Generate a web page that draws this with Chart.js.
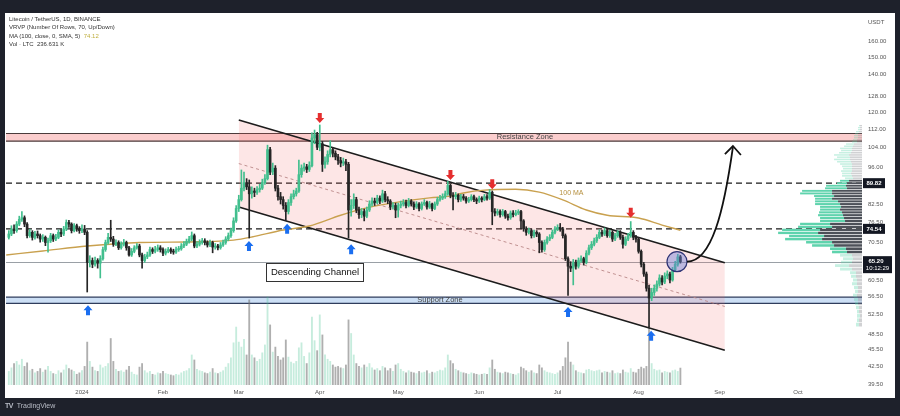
<!DOCTYPE html>
<html>
<head>
<meta charset="utf-8">
<script src="https://cdn.jsdelivr.net/npm/chart.js@4.4.1/dist/chart.umd.min.js"></script>
<style>
  html, body { margin: 0; padding: 0; background: #1e212b; }
  #wrap { position: relative; width: 900px; height: 416px; overflow: hidden; }
  #paper { position: absolute; left: 5px; top: 13px; width: 890px; height: 385px; background: #fff; }
  #chart { position: absolute; left: 0; top: 0; }
  .legend { position: absolute; left: 9px; top: 15px; font: 6px "Liberation Sans", Arial, sans-serif; color: #333; line-height: 8.3px; white-space: nowrap; }
  .legend .ma { color: #bfae3f; }
  .brand { position: absolute; left: 5px; top: 402px; font: 7px "Liberation Sans", Arial, sans-serif; color: #b8bcc6; white-space: nowrap; }
  .brand b { font-weight: 900; letter-spacing: -0.5px; margin-right: 2px; }
</style>
</head>
<body>
<div id="wrap">
  <div id="paper"></div>
  <canvas id="chart" width="900" height="416"></canvas>
  <div class="legend">
    <div>Litecoin / TetherUS, 1D, BINANCE</div>
    <div>VRVP (Number Of Rows, 70, Up/Down)</div>
    <div>MA (100, close, 0, SMA, 5) &nbsp;<span class="ma">74.12</span></div>
    <div>Vol · LTC &nbsp;236.631 K</div>
  </div>
  <div class="brand"><b>TV</b> TradingView</div>
</div>
<script>
// ============================================
// LTC/USDT daily - descending channel
// ============================================

// day 0 = 1 Jan 2024, first candle = 4 Dec 2023
const startDay = -28;
const firstOpen = 72.0;

const closes = [
    // Dec 2023
    73.0, 74.5, 74.0, 76.0, 77.5, 78.0, 76.0, 72.5, 73.5, 72.0,
    73.0, 72.5, 71.5, 72.0, 70.5, 71.0, 72.5, 71.5, 72.0, 73.5,
    73.0, 74.5, 76.5, 76.0, 74.0, 75.5, 74.5, 74.0,
    // Jan
    74.5, 73.5, 65.0, 65.5, 64.5, 65.5, 64.8, 66.0, 68.5, 70.5,
    72.0, 71.5, 70.0, 70.5, 69.0, 70.0, 70.5, 69.0, 67.0, 68.0,
    69.0, 69.5, 67.0, 65.5, 66.5, 67.0, 68.5, 68.0, 68.5, 69.0,
    68.5,
    // Feb
    67.5, 68.0, 68.5, 68.0, 67.8, 68.5, 68.7, 69.5, 70.0, 70.8,
    71.5, 72.5, 69.5, 70.0, 70.5, 71.0, 70.5, 69.8, 70.5, 69.2,
    69.5, 69.0, 69.8, 70.5, 71.5, 72.5, 74.0, 77.0, 81.0,
    // Mar
    84.0, 88.0, 90.0, 88.5, 86.0, 87.0, 86.5, 87.5, 88.0, 90.0,
    91.5, 103.0, 94.0, 95.5, 88.0, 85.0, 84.0, 82.0, 80.0, 83.0,
    85.0, 86.0, 87.0, 93.0, 95.5, 96.0, 95.0, 96.5, 108.0, 109.5,
    104.0,
    // Apr
    105.5, 97.0, 98.0, 101.0, 103.0, 101.5, 100.0, 98.5, 97.5, 98.0,
    97.0, 80.5, 82.0, 84.0, 80.5, 79.0, 80.0, 78.5, 80.5, 82.5,
    83.5, 83.0, 84.5, 83.5, 86.0, 84.0, 83.5, 81.5, 82.0, 80.5,
    // May
    82.0, 82.5, 83.0, 82.0, 83.5, 82.5, 81.5, 82.5, 81.0, 82.5,
    83.0, 81.5, 82.5, 81.0, 82.5, 84.0, 84.5, 85.0, 86.0, 89.0,
    85.5, 85.0, 85.5, 84.0, 85.0, 84.5, 83.5, 84.0, 85.0, 84.0,
    83.5,
    // Jun
    84.5, 84.0, 85.0, 84.5, 86.5, 80.0, 79.5, 80.0, 79.0, 80.0,
    78.5, 78.0, 79.5, 79.0, 79.5, 80.0, 77.0, 74.5, 73.5, 74.0,
    72.5, 73.5, 73.0, 70.5, 68.5, 70.5, 71.5, 72.0, 73.5, 74.5,
    // Jul
    75.0, 74.5, 72.5, 66.0, 64.0, 63.5, 65.0, 64.0, 65.5, 66.0,
    65.0, 67.5, 69.0, 70.0, 71.0, 72.0, 73.5, 73.0, 74.0, 72.5,
    73.5, 71.5, 72.5, 73.5, 72.0, 70.0, 71.5, 72.5, 73.5, 72.0,
    71.5,
    // Aug
    68.0, 64.5, 62.0, 58.5, 56.2, 57.5, 58.5, 59.5, 61.0, 60.0,
    61.5, 62.0, 60.5, 63.0, 64.5, 66.5, 65.2
];

const highs = [
    74.0, 75.5, 75.8, 76.8, 78.5, 80.0, 78.6, 76.5, 74.4, 74.0,
    73.8, 73.9, 73.0, 72.8, 72.4, 71.8, 73.2, 73.0, 72.9, 74.2,
    74.3, 75.3, 77.3, 77.2, 76.4, 76.2, 76.0, 75.2,
    75.8, 75.6, 74.0, 66.8, 66.2, 66.4, 66.0, 66.8, 69.2, 71.2,
    73.2, 77.2, 72.3, 71.3, 71.0, 70.7, 71.4, 70.9, 69.4, 68.8,
    69.6, 70.2, 70.0, 67.5, 67.2, 67.8, 69.2, 69.0, 69.4, 69.8,
    69.6,
    69.0, 68.7, 69.1, 69.0, 68.6, 69.2, 69.4, 70.2, 70.8, 71.5,
    72.3, 73.6, 73.0, 70.8, 71.3, 71.7, 71.6, 71.0, 71.2, 70.9,
    70.2, 70.0, 70.5, 71.2, 72.2, 73.3, 74.8, 78.0, 82.0,
    85.5, 94.8, 94.0, 91.5, 91.0, 88.5, 88.0, 88.6, 89.4, 91.3,
    93.0, 104.9, 104.0, 97.5, 96.5, 89.0, 86.5, 85.0, 83.0, 84.0,
    86.0, 87.3, 88.0, 98.7, 96.8, 97.5, 97.0, 98.0, 110.3, 111.6,
    110.5,
    113.9, 106.5, 100.0, 102.5, 106.8, 104.0, 102.5, 101.0, 99.8, 99.5,
    99.0, 97.8, 84.0, 86.0, 84.8, 81.5, 81.0, 80.8, 81.5, 83.6,
    84.6, 84.5, 85.5, 85.3, 87.3, 86.9, 85.0, 84.0, 83.0, 82.8,
    82.8, 83.5, 84.0, 83.8, 84.4, 84.0, 83.2, 83.3, 83.0, 83.2,
    84.0, 83.5, 83.4, 82.8, 83.2, 84.8, 85.5, 86.0, 87.0, 90.5,
    89.5, 86.4, 86.5, 86.0, 85.8, 85.8, 85.0, 84.8, 85.7, 85.6,
    84.6,
    85.2, 85.0, 85.8, 85.7, 87.5, 87.0, 81.0, 80.8, 80.6, 80.7,
    80.4, 79.2, 80.2, 80.3, 80.4, 80.6, 80.4, 77.4, 75.2, 74.8,
    74.5, 74.2, 74.0, 73.4, 71.0, 71.2, 72.2, 72.8, 74.2, 75.2,
    75.8, 76.2, 75.0, 73.0, 66.5, 65.2, 65.8, 65.6, 66.2, 66.8,
    66.4, 68.2, 69.8, 70.8, 71.8, 72.8, 74.3, 74.2, 74.8, 74.5,
    74.2, 74.0, 73.2, 74.0, 74.0, 72.7, 72.2, 73.2, 76.8, 74.0,
    72.6,
    72.0, 68.4, 65.0, 62.5, 59.2, 58.5, 59.3, 60.3, 61.8, 61.6,
    62.3, 62.8, 62.5, 63.7, 65.3, 67.2, 66.9
];

const lows = [
    71.5, 72.5, 73.2, 73.5, 75.5, 76.8, 75.2, 71.8, 72.0, 71.2,
    71.5, 71.8, 70.6, 70.8, 69.6, 67.8, 70.5, 70.8, 71.0, 71.6,
    72.2, 72.5, 74.0, 75.0, 73.3, 73.6, 73.8, 73.2,
    73.4, 72.8, 57.6, 63.8, 63.6, 64.0, 63.5, 61.0, 65.6, 68.0,
    70.0, 70.8, 69.4, 69.6, 68.5, 68.6, 69.5, 68.3, 66.7, 66.6,
    67.6, 68.6, 66.5, 63.5, 65.0, 66.0, 66.6, 67.4, 67.6, 68.0,
    67.8,
    66.8, 67.0, 67.6, 67.4, 67.2, 67.4, 68.0, 68.3, 69.0, 69.6,
    70.3, 71.0, 69.0, 69.0, 69.5, 70.0, 69.8, 69.2, 69.3, 67.6,
    68.6, 68.4, 68.6, 69.4, 70.0, 71.0, 72.0, 73.5, 76.5,
    80.0, 83.5, 87.0, 87.5, 71.8, 84.5, 85.0, 85.8, 86.6, 87.5,
    89.4, 91.0, 93.0, 93.0, 87.0, 83.8, 82.5, 80.8, 77.2, 79.2,
    82.0, 84.2, 85.2, 86.5, 92.0, 94.3, 93.8, 94.2, 96.0, 105.5,
    103.0,
    102.5, 94.2, 95.5, 97.0, 100.0, 100.0, 98.8, 97.0, 96.0, 96.5,
    94.5, 71.8, 78.5, 81.0, 79.6, 77.8, 78.0, 77.0, 78.0, 80.0,
    81.8, 82.0, 82.5, 82.6, 83.0, 83.2, 82.6, 80.6, 80.8, 78.0,
    78.2, 81.2, 81.8, 81.2, 81.5, 81.8, 80.6, 81.0, 80.2, 80.5,
    82.0, 80.8, 81.0, 80.2, 80.6, 82.0, 83.5, 84.0, 84.4, 85.5,
    84.6, 80.5, 84.2, 83.2, 83.4, 83.8, 82.8, 83.0, 83.5, 83.3,
    82.6,
    83.0, 83.2, 83.6, 83.8, 84.0, 75.8, 78.6, 78.8, 78.2, 78.5,
    77.8, 77.2, 77.5, 78.3, 78.6, 79.0, 74.5, 73.8, 72.6, 73.0,
    71.8, 72.0, 72.2, 67.6, 67.8, 68.0, 70.0, 71.0, 71.6, 73.0,
    74.0, 73.8, 71.8, 65.5, 56.8, 62.6, 59.3, 63.2, 63.5, 65.0,
    64.3, 64.6, 67.0, 68.5, 69.5, 70.5, 71.6, 72.3, 72.5, 72.0,
    72.0, 70.8, 71.0, 72.0, 71.4, 68.9, 69.6, 71.0, 72.0, 71.3,
    70.6,
    67.5, 63.8, 61.4, 57.8, 49.9, 55.6, 56.8, 57.8, 59.0, 59.3,
    59.6, 60.8, 59.8, 60.2, 62.6, 64.0, 64.8
];

// volume in thousand LTC
const volumes = [
    190, 240, 300, 330, 280, 360, 260, 310, 200, 220,
    170, 190, 230, 180, 210, 260, 190, 160, 150, 200,
    170, 210, 280, 230, 210, 190, 150, 170,
    200, 260, 600, 330, 250, 200, 190, 280, 240, 260,
    300, 650, 330, 220, 190, 200, 180, 210, 260, 180,
    150, 140, 250, 300, 200, 170, 190, 150, 140, 170,
    160,
    190, 160, 150, 140, 130, 150, 140, 170, 190, 200,
    230, 420, 350, 220, 200, 190, 170, 160, 180, 230,
    170, 160, 180, 200, 250, 300, 380, 590, 810,
    600, 530, 640, 420, 1190, 420, 380, 330, 360, 450,
    560, 1230, 840, 460, 530, 400, 350, 380, 630, 390,
    320, 300, 330, 520, 590, 400, 300, 450, 950, 620,
    480,
    980, 700, 420, 360, 330, 280, 250, 260, 240, 230,
    280, 910, 720, 420, 300, 260, 240, 280, 250, 300,
    240, 210, 230, 200, 260, 240, 200, 230, 190, 280,
    300, 220, 190, 170, 200, 180, 170, 160, 190, 170,
    180, 200, 160, 180, 170, 190, 210, 200, 240, 420,
    340, 300, 220, 200, 180, 170, 160, 150, 170, 160,
    150,
    140, 150, 160, 150, 240, 350, 220, 180, 170, 160,
    180, 170, 160, 150, 140, 160, 250, 230, 200, 180,
    200, 170, 160, 280, 240, 200, 180, 170, 160, 150,
    170, 200, 260, 380, 600, 320, 280, 200, 180, 170,
    160, 210, 220, 200, 190, 200, 210, 170, 190, 180,
    170, 200, 160, 170, 160, 210, 180, 170, 230, 180,
    170,
    220, 250, 230, 260, 820, 300, 220, 200, 210, 170,
    190, 180, 170, 200, 210, 190, 236.631
];

// 100 MA
const maDays = [-29, -15, 2, 22, 45, 58, 65, 77, 87, 99, 109, 122, 133, 141, 146, 154, 166, 175, 184, 193, 201, 213, 222, 229];
const maValues = [67.0, 68.1, 69.5, 70.5, 70.7, 71.2, 72.1, 74.2, 75.4, 78.8, 81.2, 83.3, 84.6, 85.2, 86.3, 87.3, 87.6, 86.6, 83.9, 80.5, 78.8, 77.9, 75.7, 74.12];

// VRVP, 70 rows, bottom to top
const profileUp = [
    3, 2, 3, 2, 3, 3, 4, 4, 3, 4,
    5, 4, 5, 6, 12, 14, 11, 10, 12, 15,
    16, 22, 26, 37, 35, 40, 38, 34, 30, 25,
    24, 25, 23, 20, 21, 25, 23, 17, 20, 32,
    30, 22, 20, 10, 9, 8, 10, 9, 11, 9,
    10, 12, 14, 16, 13, 15, 12, 11, 12, 9,
    8, 5, 4, 4, 4, 3, 3, 2, 2, 1
];
const profileDown = [
    3, 3, 2, 3, 3, 4, 4, 5, 4, 4,
    5, 5, 6, 6, 10, 13, 10, 9, 10, 15,
    16, 28, 30, 40, 38, 44, 42, 30, 32, 17,
    18, 19, 20, 22, 21, 22, 24, 30, 28, 30,
    30, 15, 16, 15, 13, 9, 10, 11, 10, 10,
    10, 10, 11, 12, 12, 13, 11, 10, 10, 9,
    8, 5, 5, 4, 4, 4, 3, 2, 2, 2
];
const valueAreaRows = [19, 44];

// ejes
const monthTicks = [0, 31, 60, 91, 121, 152, 182, 213, 244, 274];
const monthLabels = ['2024', 'Feb', 'Mar', 'Apr', 'May', 'Jun', 'Jul', 'Aug', 'Sep', 'Oct'];
const priceTicks = [160, 150, 140, 128, 120, 112, 104, 96, 82.5, 76.5, 70.5, 60.5, 56.5, 52.5, 48.5, 45.5, 42.5, 39.5];

// drawings
const channelDays = [60, 246];
const channelUpper = [116.2, 64.9];
const channelLower = [81.5, 45.4];
const channelMid = [97.3, 54.3];
const resistanceZone = [106.6, 110.0];
const supportZone = [55.0, 56.4];
const keyLevels = [89.82, 74.54];
const lastPrice = 65.20;
const countdown = '10:12:29';
const redArrows = [[91, 114.8], [141, 91.0], [157, 87.6], [210, 78.0]];
const blueArrows = [[2.3, 54.6], [63.9, 70.9], [78.5, 76.1], [103, 70.0], [186, 54.2], [217.8, 49.2]];
const targetCircle = [227.7, 65.2];
const targetPath = [[231.5, 65.2], [241.1, 65.2], [245.7, 80.5], [249.1, 104.1]];
const textLabels = [
    { text: 'Resistance Zone', day: 169.5, price: 108.3 },
    { text: 'Support Zone', day: 137, price: 55.7 }
];
const maLabel = { text: '100 MA', day: 187.3, price: 86.1 };
const channelLabel = { text: 'Descending Channel', day: 89.2, price: 62.5 };

const colors = {
    up: '#42bf8e',
    down: '#252525',
    volUp: 'rgba(66, 191, 142, 0.3)',
    volDown: 'rgba(110, 110, 110, 0.55)',
    ma: '#c9a14f',
    red: '#e52e2e',
    blue: '#1a6ef0',
    text: '#555'
};
const FONT = '"Liberation Sans", Arial, sans-serif';

const days = closes.map((c, i) => startDay + i);
const opens = closes.map((c, i) => i === 0 ? firstOpen : closes[i - 1]);
const candleColors = closes.map((c, i) => c >= opens[i] ? colors.up : colors.down);
const volColors = closes.map((c, i) => c >= opens[i] ? colors.volUp : colors.volDown);

function pt(chart, day, price) {
    return [chart.scales.x.getPixelForValue(day), chart.scales.y.getPixelForValue(price)];
}

function hLine(ctx, a, yy) {
    ctx.beginPath();
    ctx.moveTo(a.left, yy);
    ctx.lineTo(a.right, yy);
    ctx.stroke();
}

function blockArrow(ctx, x, y, dir, color) {
    // dir 1 = apunta hacia arriba (punta en y), -1 = hacia abajo
    const s = dir;
    ctx.fillStyle = color;
    ctx.beginPath();
    ctx.moveTo(x, y);
    ctx.lineTo(x + 4.5, y + 5 * s);
    ctx.lineTo(x + 2, y + 5 * s);
    ctx.lineTo(x + 2, y + 10 * s);
    ctx.lineTo(x - 2, y + 10 * s);
    ctx.lineTo(x - 2, y + 5 * s);
    ctx.lineTo(x - 4.5, y + 5 * s);
    ctx.closePath();
    ctx.fill();
}

const overlays = {
    id: 'overlays',
    beforeDatasetsDraw(chart) {
        const { ctx, chartArea: a, scales: { y } } = chart;
        ctx.save();
        ctx.beginPath();
        ctx.rect(a.left, a.top, a.width, a.height);
        ctx.clip();

        [[resistanceZone, 'rgba(242, 100, 100, 0.32)', '#4b3b3b'],
         [supportZone, 'rgba(120, 170, 230, 0.38)', '#2f3d5c']].forEach(([z, fill, edge]) => {
            const top = y.getPixelForValue(z[1]);
            const bot = y.getPixelForValue(z[0]);
            ctx.fillStyle = fill;
            ctx.fillRect(a.left, top, a.width, bot - top);
            ctx.strokeStyle = edge;
            ctx.lineWidth = 1.2;
            hLine(ctx, a, top);
            hLine(ctx, a, bot);
        });

        ctx.strokeStyle = '#9aa0a6';
        ctx.lineWidth = 1;
        hLine(ctx, a, Math.round(y.getPixelForValue(lastPrice)) + 0.5);

        ctx.strokeStyle = '#1a1a1a';
        ctx.lineWidth = 1.4;
        ctx.setLineDash([6, 4]);
        keyLevels.forEach(v => hLine(ctx, a, y.getPixelForValue(v)));
        ctx.restore();
    },
    afterDatasetsDraw(chart) {
        const { ctx, chartArea: a, scales: { y } } = chart;
        ctx.save();
        ctx.beginPath();
        ctx.rect(a.left, a.top, a.width, a.height);
        ctx.clip();

        // volume profile
        const pLow = Math.min(...lows);
        const pHigh = Math.max(...highs);
        const step = (pHigh - pLow) / profileUp.length;
        const maxTotal = Math.max(...profileUp.map((u, i) => u + profileDown[i]));
        const maxW = a.width * 0.098;
        profileUp.forEach((u, i) => {
            const yTop = y.getPixelForValue(pLow + (i + 1) * step);
            const yBot = y.getPixelForValue(pLow + i * step);
            const h = Math.max(yBot - yTop - 0.7, 0.6);
            const wd = profileDown[i] / maxTotal * maxW;
            const wu = u / maxTotal * maxW;
            const inVA = i >= valueAreaRows[0] && i <= valueAreaRows[1];
            ctx.fillStyle = inVA ? '#4d5159' : 'rgba(120, 123, 130, 0.35)';
            ctx.fillRect(a.right - wd, yTop, wd, h);
            ctx.fillStyle = inVA ? '#5fd3ad' : 'rgba(95, 211, 173, 0.35)';
            ctx.fillRect(a.right - wd - wu, yTop, wu, h);
        });

        // textos de zonas
        ctx.fillStyle = '#444';
        ctx.font = '7.5px ' + FONT;
        ctx.textAlign = 'center';
        ctx.textBaseline = 'middle';
        textLabels.forEach(l => {
            const [lx, ly] = pt(chart, l.day, l.price);
            ctx.fillText(l.text, lx, ly);
        });

        ctx.fillStyle = '#b58f3e';
        ctx.font = '7px ' + FONT;
        const [mx, my] = pt(chart, maLabel.day, maLabel.price);
        ctx.fillText(maLabel.text, mx, my);

        // caja "Descending Channel"
        ctx.font = '9.5px ' + FONT;
        const [cx, cy] = pt(chart, channelLabel.day, channelLabel.price);
        const tw = ctx.measureText(channelLabel.text).width + 9;
        ctx.fillStyle = '#fff';
        ctx.fillRect(cx - tw / 2, cy - 9, tw, 18);
        ctx.strokeStyle = '#333';
        ctx.lineWidth = 1;
        ctx.strokeRect(Math.round(cx - tw / 2) + 0.5, Math.round(cy - 9) + 0.5, Math.round(tw), 18);
        ctx.fillStyle = '#111';
        ctx.fillText(channelLabel.text, cx, cy + 0.5);

        // flechas
        redArrows.forEach(([d, p]) => {
            const [ax, ay] = pt(chart, d, p);
            blockArrow(ctx, ax, ay, -1, colors.red);
        });
        blueArrows.forEach(([d, p]) => {
            const [ax, ay] = pt(chart, d, p);
            blockArrow(ctx, ax, ay, 1, colors.blue);
        });

        // circulo objetivo
        const [ox, oy] = pt(chart, targetCircle[0], targetCircle[1]);
        ctx.beginPath();
        ctx.arc(ox, oy, 10, 0, Math.PI * 2);
        ctx.fillStyle = 'rgba(111, 128, 214, 0.45)';
        ctx.fill();
        ctx.strokeStyle = '#2f3475';
        ctx.lineWidth = 1.2;
        ctx.stroke();

        // curva hacia la resistencia
        const P = targetPath.map(([d, p]) => pt(chart, d, p));
        ctx.strokeStyle = '#111';
        ctx.lineWidth = 1.8;
        ctx.beginPath();
        ctx.moveTo(P[0][0], P[0][1]);
        ctx.bezierCurveTo(P[1][0], P[1][1], P[2][0], P[2][1], P[3][0], P[3][1]);
        ctx.stroke();
        ctx.beginPath();
        ctx.moveTo(P[3][0] - 8, P[3][1] + 7);
        ctx.lineTo(P[3][0], P[3][1] - 1);
        ctx.lineTo(P[3][0] + 8, P[3][1] + 8);
        ctx.stroke();
        ctx.restore();
    },
    afterDraw(chart) {
        const { ctx, chartArea: a, scales: { y } } = chart;
        ctx.save();
        ctx.font = 'bold 6px ' + FONT;
        ctx.textAlign = 'center';
        ctx.textBaseline = 'middle';
        keyLevels.forEach(v => {
            const by = y.getPixelForValue(v);
            ctx.fillStyle = '#131722';
            ctx.fillRect(a.right + 1, by - 5, 22, 10);
            ctx.fillStyle = '#fff';
            ctx.fillText(v.toFixed(2), a.right + 12, by + 0.5);
        });
        const ly = y.getPixelForValue(lastPrice);
        ctx.fillStyle = '#131722';
        ctx.fillRect(a.right + 1, ly - 5.5, 29, 17);
        ctx.fillStyle = '#fff';
        ctx.fillText(lastPrice.toFixed(2), a.right + 14, ly);
        ctx.font = '6px ' + FONT;
        ctx.fillText(countdown, a.right + 15.5, ly + 7);

        ctx.fillStyle = colors.text;
        ctx.font = '6px ' + FONT;
        ctx.textAlign = 'left';
        ctx.fillText('USDT', a.right + 6, a.top + 9);
        ctx.restore();
    }
};

const ctx = document.getElementById('chart');

new Chart(ctx, {
    type: 'bar',
    data: {
        datasets: [
            {
                type: 'line',
                data: channelDays.map((d, i) => ({ x: d, y: channelUpper[i] })),
                borderColor: '#1c1c1c',
                borderWidth: 1.6,
                pointRadius: 0,
                fill: false,
                order: 5
            },
            {
                type: 'line',
                data: channelDays.map((d, i) => ({ x: d, y: channelLower[i] })),
                borderColor: '#1c1c1c',
                borderWidth: 1.6,
                pointRadius: 0,
                fill: '-1',
                backgroundColor: 'rgba(242, 100, 100, 0.16)',
                order: 6
            },
            {
                type: 'line',
                data: channelDays.map((d, i) => ({ x: d, y: channelMid[i] })),
                borderColor: 'rgba(185, 135, 135, 0.9)',
                borderWidth: 1,
                borderDash: [3, 3],
                pointRadius: 0,
                fill: false,
                order: 4
            },
            {
                type: 'line',
                data: maDays.map((d, i) => ({ x: d, y: maValues[i] })),
                borderColor: colors.ma,
                borderWidth: 1.4,
                pointRadius: 0,
                cubicInterpolationMode: 'monotone',
                fill: false,
                order: 3
            },
            {
                data: days.map((d, i) => ({ x: d, y: volumes[i] })),
                yAxisID: 'y2',
                backgroundColor: volColors,
                barThickness: 1.2,
                grouped: false,
                borderWidth: 0,
                order: 8
            },
            {
                data: days.map((d, i) => ({ x: d, y: [lows[i], highs[i]] })),
                backgroundColor: candleColors,
                barThickness: 1,
                grouped: false,
                borderWidth: 0,
                order: 2
            },
            {
                data: days.map((d, i) => ({ x: d, y: [opens[i], closes[i]] })),
                backgroundColor: candleColors,
                barThickness: 2,
                minBarLength: 1,
                grouped: false,
                borderWidth: 0,
                order: 1
            }
        ]
    },
    options: {
        responsive: false,
        animation: false,
        events: [],
        devicePixelRatio: 1,
        layout: { padding: { left: 6, top: 13, right: 5, bottom: 18 } },
        plugins: {
            legend: { display: false },
            tooltip: { enabled: false }
        },
        scales: {
            x: {
                type: 'linear',
                min: -29.08,
                max: 298.5,
                offset: false,
                grid: { display: false, drawTicks: false, offset: false },
                border: { display: false },
                afterBuildTicks: s => { s.ticks = monthTicks.map(v => ({ value: v })); },
                afterFit: s => { s.height = 13; },
                ticks: {
                    autoSkip: false,
                    maxRotation: 0,
                    padding: 4,
                    color: colors.text,
                    font: { family: FONT, size: 6 },
                    callback: (v, i) => monthLabels[i]
                }
            },
            y: {
                type: 'logarithmic',
                position: 'right',
                min: 39.41,
                max: 179.9,
                beginAtZero: false,
                grid: { display: false, drawTicks: false },
                border: { display: false },
                afterBuildTicks: s => { s.ticks = priceTicks.map(v => ({ value: v })); },
                afterFit: s => { s.width = 33; },
                ticks: {
                    autoSkip: false,
                    padding: 6,
                    color: colors.text,
                    font: { family: FONT, size: 6 },
                    callback: v => Number(v).toFixed(2)
                }
            },
            y2: {
                type: 'linear',
                display: false,
                min: 0,
                max: 5200
            }
        }
    },
    plugins: [overlays]
});
</script>
</body>
</html>
